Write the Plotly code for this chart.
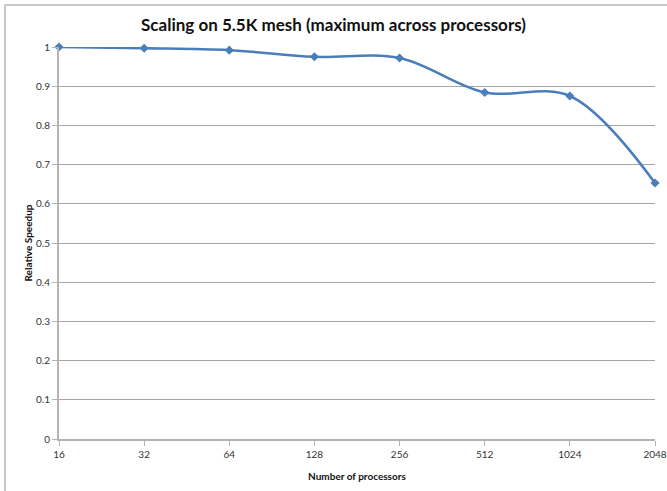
import plotly.graph_objects as go

# Processor counts (categorical x axis) and relative speedup values
processors = ["16", "32", "64", "128", "256", "512", "1024", "2048"]
speedup = [1.0, 0.997, 0.992, 0.975, 0.972, 0.884, 0.875, 0.653]

y_ticks = [0, 0.1, 0.2, 0.3, 0.4, 0.5, 0.6, 0.7, 0.8, 0.9, 1]
y_labels = ["0", "0.1", "0.2", "0.3", "0.4", "0.5", "0.6", "0.7", "0.8", "0.9", "1"]

W, H = 667, 491
ML, MR, MT, MB = 59, 12, 47, 52
pw, ph = W - ML - MR, H - MT - MB

def px_x(x):
    return (x - ML) / pw

def px_y(y):
    return (H - MB - y) / ph

fig = go.Figure()
fig.add_trace(go.Scatter(
    x=processors,
    y=speedup,
    mode="lines+markers",
    line=dict(color="#4a7ebb", width=2.5, shape="spline", smoothing=1.0),
    marker=dict(symbol="diamond", size=7, color="#4a7ebb"),
    showlegend=False,
    hoverinfo="x+y",
    cliponaxis=False,
))

FONT = "Lato, 'DejaVu Sans', sans-serif"
axis_font = dict(family=FONT, size=10, color="#333333")

fig.update_layout(
    width=W,
    height=H,
    margin=dict(l=ML, r=MR, t=MT, b=MB, autoexpand=False),
    paper_bgcolor="white",
    plot_bgcolor="white",
    title=dict(
        text="<b>Scaling on 5.5K mesh (maximum across processors)</b>",
        x=0.5, xanchor="center",
        y=1 - 25 / H, yanchor="middle",
        font=dict(family=FONT, size=17, color="#111111"),
    ),
    xaxis=dict(
        type="category",
        categoryorder="array",
        categoryarray=processors,
        range=[0, len(processors) - 1],
        automargin=False,
        showgrid=False,
        showline=True,
        linecolor="#b4b4b4",
        linewidth=2,
        ticks="outside",
        ticklen=5,
        tickcolor="#b4b4b4",
        tickwidth=1,
        tickfont=axis_font,
        title=dict(text="<b>Number of processors</b>", font=dict(family=FONT, size=10, color="#111111"), standoff=14),
        zeroline=False,
    ),
    yaxis=dict(
        range=[0, 1],
        tickvals=y_ticks,
        ticktext=y_labels,
        automargin=False,
        showgrid=True,
        gridcolor="#a6a6a6",
        gridwidth=1,
        showline=True,
        linecolor="#b4b4b4",
        linewidth=2,
        ticks="outside",
        ticklen=5,
        tickcolor="#b4b4b4",
        tickfont=axis_font,
        title=dict(text="<b>Relative Speedup</b>", font=dict(family=FONT, size=10, color="#111111"), standoff=2),
        zeroline=False,
    ),
    shapes=[
        # chart frame (right and bottom edges run past the page)
        dict(type="rect", xref="paper", yref="paper",
             x0=px_x(5), x1=px_x(672), y0=px_y(496), y1=px_y(5),
             line=dict(color="#c8c8c8", width=2), fillcolor="rgba(0,0,0,0)", layer="below"),
    ],
)

fig.write_html("out.html")
